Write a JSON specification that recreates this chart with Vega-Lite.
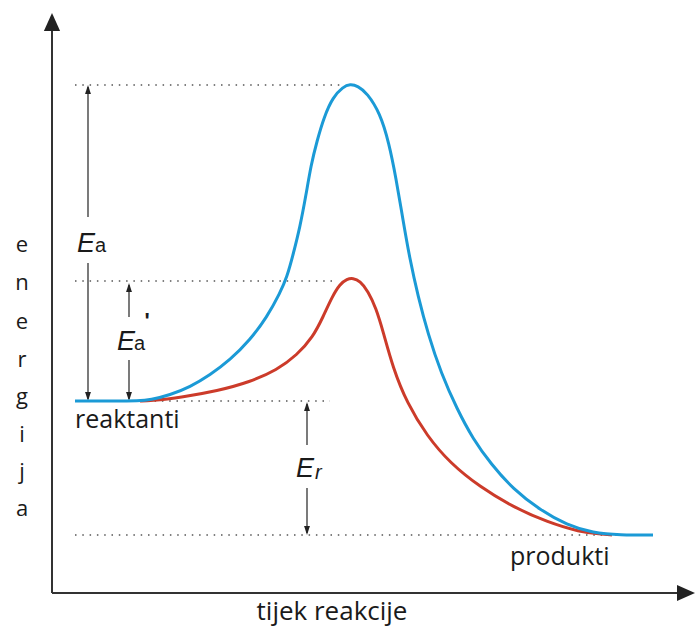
{
  "$schema": "https://vega.github.io/schema/vega-lite/v6.json",
  "width": 696,
  "height": 633,
  "autosize": {"type": "fit", "contains": "padding"},
  "padding": 0,
  "background": "white",
  "config": {"view": {"stroke": null}},
  "datasets": {
    "blue": [
      {"x": 23, "y": 192}, {"x": 58, "y": 192}, {"x": 88, "y": 192}, {"x": 98, "y": 193},
      {"x": 118, "y": 198}, {"x": 138, "y": 206}, {"x": 158, "y": 218}, {"x": 178, "y": 233},
      {"x": 198, "y": 253}, {"x": 215, "y": 276}, {"x": 228, "y": 300}, {"x": 235, "y": 316},
      {"x": 241, "y": 338}, {"x": 248, "y": 366}, {"x": 254, "y": 398}, {"x": 259, "y": 428},
      {"x": 265, "y": 452}, {"x": 272, "y": 476}, {"x": 281, "y": 496}, {"x": 291, "y": 506},
      {"x": 298, "y": 509}, {"x": 306, "y": 507}, {"x": 315, "y": 500}, {"x": 328, "y": 480},
      {"x": 337, "y": 450}, {"x": 344, "y": 415}, {"x": 351, "y": 373}, {"x": 358, "y": 333},
      {"x": 366, "y": 297}, {"x": 376, "y": 259}, {"x": 389, "y": 220}, {"x": 405, "y": 184},
      {"x": 421, "y": 154}, {"x": 439, "y": 129}, {"x": 461, "y": 104}, {"x": 488, "y": 83},
      {"x": 515, "y": 68}, {"x": 541, "y": 60}, {"x": 568, "y": 58}, {"x": 601, "y": 58}
    ],
    "red": [
      {"x": 88, "y": 192}, {"x": 98, "y": 192}, {"x": 131, "y": 196}, {"x": 165, "y": 202},
      {"x": 198, "y": 211}, {"x": 225, "y": 223}, {"x": 245, "y": 238}, {"x": 261, "y": 256},
      {"x": 271, "y": 276}, {"x": 280, "y": 296}, {"x": 288, "y": 309}, {"x": 295, "y": 314},
      {"x": 301, "y": 315}, {"x": 308, "y": 312}, {"x": 316, "y": 302}, {"x": 324, "y": 285},
      {"x": 331, "y": 262}, {"x": 341, "y": 225}, {"x": 355, "y": 190}, {"x": 375, "y": 157},
      {"x": 398, "y": 130}, {"x": 428, "y": 106}, {"x": 461, "y": 86}, {"x": 495, "y": 71},
      {"x": 528, "y": 61}, {"x": 548, "y": 59}, {"x": 560, "y": 58}
    ],
    "axes": [
      {"x": 0, "y": 0, "x2": 0, "y2": 572},
      {"x": 0, "y": 0, "x2": 635, "y2": 0}
    ],
    "dots": [
      {"x": 23, "x2": 288, "y": 508, "y2": 508},
      {"x": 23, "x2": 283, "y": 312, "y2": 312},
      {"x": 88, "x2": 278, "y": 192, "y2": 192},
      {"x": 23, "x2": 581, "y": 58, "y2": 58}
    ],
    "shafts": [
      {"x": 36, "x2": 36, "y": 506, "y2": 376},
      {"x": 36, "x2": 36, "y": 330, "y2": 194},
      {"x": 77, "x2": 77, "y": 308, "y2": 276},
      {"x": 77, "x2": 77, "y": 233, "y2": 194},
      {"x": 255, "x2": 255, "y": 189, "y2": 148},
      {"x": 255, "x2": 255, "y": 105, "y2": 60}
    ],
    "headsUp": [{"x": 36, "y": 508}, {"x": 77, "y": 310}, {"x": 255, "y": 191}],
    "headsDown": [{"x": 36, "y": 192}, {"x": 77, "y": 192}, {"x": 255, "y": 58}],
    "axisHeadUp": [{"x": 0, "y": 580}],
    "axisHeadRight": [{"x": 643, "y": 0}],
    "bigE": [{"t": "E", "x": 25, "y": 341}, {"t": "E", "x": 65, "y": 243}, {"t": "E", "x": 244, "y": 116}],
    "subA": [{"t": "a", "x": 43, "y": 341}, {"t": "a", "x": 82, "y": 243}],
    "subR": [{"t": "r", "x": 263, "y": 114}],
    "prime": [{"t": "'", "x": 95, "y": 265}],
    "labels": [{"t": "reaktanti", "x": 23, "y": 165}, {"t": "produkti", "x": 458, "y": 28}],
    "xtitle": [{"t": "tijek reakcije", "x": 280, "y": -27}],
    "ytitle": [
      {"t": "e", "x": -30, "y": 341}, {"t": "n", "x": -30, "y": 303}, {"t": "e", "x": -30, "y": 264},
      {"t": "r", "x": -30, "y": 226}, {"t": "g", "x": -30, "y": 189}, {"t": "i", "x": -30, "y": 151},
      {"t": "j", "x": -30, "y": 114}, {"t": "a", "x": -30, "y": 77}
    ]
  },
  "encoding": {
    "x": {"field": "x", "type": "quantitative", "scale": {"domain": [-52, 644], "nice": false, "zero": false}, "axis": null},
    "y": {"field": "y", "type": "quantitative", "scale": {"domain": [-40, 593], "nice": false, "zero": false}, "axis": null}
  },
  "layer": [
    {"data": {"name": "dots"}, "mark": {"type": "rule", "color": "#555555", "strokeWidth": 1.5, "strokeDash": [1.5, 5.8]},
     "encoding": {"x2": {"field": "x2"}, "y2": {"field": "y2"}}},
    {"data": {"name": "axes"}, "mark": {"type": "rule", "color": "#333333", "strokeWidth": 2},
     "encoding": {"x2": {"field": "x2"}, "y2": {"field": "y2"}}},
    {"data": {"name": "shafts"}, "mark": {"type": "rule", "color": "#222222", "strokeWidth": 1.2},
     "encoding": {"x2": {"field": "x2"}, "y2": {"field": "y2"}}},
    {"data": {"name": "headsUp"}, "mark": {"type": "point", "shape": "M0,0L-0.65,2L0.65,2Z", "size": 81, "filled": true, "color": "#222222", "opacity": 1}},
    {"data": {"name": "headsDown"}, "mark": {"type": "point", "shape": "M0,0L-0.65,-2L0.65,-2Z", "size": 81, "filled": true, "color": "#222222", "opacity": 1}},
    {"data": {"name": "axisHeadUp"}, "mark": {"type": "point", "shape": "M0,0L-0.9,2L0.9,2Z", "size": 324, "filled": true, "color": "#222222", "opacity": 1}},
    {"data": {"name": "axisHeadRight"}, "mark": {"type": "point", "shape": "M0,0L-2,-0.9L-2,0.9Z", "size": 324, "filled": true, "color": "#222222", "opacity": 1}},
    {"data": {"name": "red"}, "mark": {"type": "line", "interpolate": "basis", "color": "#cc3b2a", "strokeWidth": 3}},
    {"data": {"name": "blue"}, "mark": {"type": "line", "interpolate": "basis", "color": "#1b9ad6", "strokeWidth": 3}},
    {"data": {"name": "bigE"}, "mark": {"type": "text", "font": "Liberation Sans", "fontSize": 27, "fontStyle": "italic", "align": "left", "baseline": "alphabetic", "color": "#1a1a1a"},
     "encoding": {"text": {"field": "t"}}},
    {"data": {"name": "subA"}, "mark": {"type": "text", "font": "Liberation Sans", "fontSize": 20, "align": "left", "baseline": "alphabetic", "color": "#1a1a1a"},
     "encoding": {"text": {"field": "t"}}},
    {"data": {"name": "subR"}, "mark": {"type": "text", "font": "Liberation Sans", "fontSize": 20, "fontStyle": "italic", "align": "left", "baseline": "alphabetic", "color": "#1a1a1a"},
     "encoding": {"text": {"field": "t"}}},
    {"data": {"name": "prime"}, "mark": {"type": "text", "font": "Liberation Sans", "fontSize": 22, "fontWeight": "bold", "align": "center", "baseline": "alphabetic", "color": "#1a1a1a"},
     "encoding": {"text": {"field": "t"}}},
    {"data": {"name": "labels"}, "mark": {"type": "text", "font": "Open Sans", "fontSize": 25, "align": "left", "baseline": "alphabetic", "color": "#1a1a1a"},
     "encoding": {"text": {"field": "t"}}},
    {"data": {"name": "xtitle"}, "mark": {"type": "text", "font": "Open Sans", "fontSize": 26, "align": "center", "baseline": "alphabetic", "color": "#1a1a1a"},
     "encoding": {"text": {"field": "t"}}},
    {"data": {"name": "ytitle"}, "mark": {"type": "text", "font": "Open Sans", "fontSize": 22, "align": "center", "baseline": "alphabetic", "color": "#1a1a1a"},
     "encoding": {"text": {"field": "t"}}}
  ]
}
